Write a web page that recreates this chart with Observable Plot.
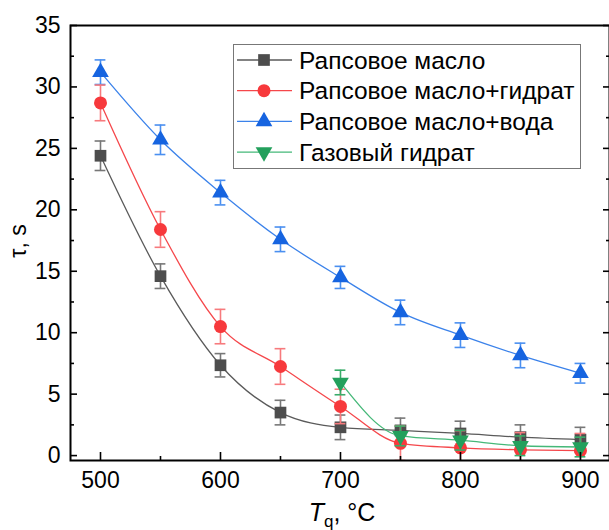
<!DOCTYPE html>
<html><head><meta charset="utf-8">
<script src="https://cdn.jsdelivr.net/npm/d3@7"></script>
<script src="https://cdn.jsdelivr.net/npm/@observablehq/plot@0.6"></script>
<style>
body{margin:0;background:#fff;font-family:"Liberation Sans",Arial,sans-serif}
#chart{width:609px;height:530px}
</style>
</head><body><div id="chart"></div>
<script>
// ---- data ----
const temps = [500, 550, 600, 650, 700, 750, 800, 850, 900];
const oil = [24.4, 14.6, 7.35, 3.5, 2.3, 2.05, 1.8, 1.5, 1.3];
const oilErr = [1.2, 1.0, 0.95, 1.0, 1.0, 1.0, 1.0, 1.0, 1.0];
const oilHydrate = [28.7, 18.4, 10.5, 7.25, 4.0, 1.0, 0.63, 0.47, 0.4];
const oilHydrateErr = [1.45, 1.45, 1.4, 1.45, 1.4, 1.4, 1.4, 1.4, 1.4];
const oilWater = [31.2, 25.7, 21.4, 17.6, 14.5, 11.65, 9.8, 8.15, 6.7];
const oilWaterErr = [1.0, 1.2, 1.0, 1.0, 0.9, 1.0, 1.0, 1.0, 0.8];
const hydrateTemps = [700, 750, 800, 850, 900];
const hydrate = [5.95, 1.6, 1.25, 0.8, 0.7];
const hydrateErr = [1.0, 0.8, 0.8, 0.8, 0.8];
const seriesNames = ["Рапсовое масло", "Рапсовое масло+гидрат", "Рапсовое масло+вода", "Газовый гидрат"];
const xTicks = [500, 600, 700, 800, 900];
const xMinorTicks = [550, 650, 750, 850];
const yTicks = [0, 5, 10, 15, 20, 25, 30, 35];
const yMinorTicks = [2.5, 7.5, 12.5, 17.5, 22.5, 27.5, 32.5];
const xLabel = ["T", "q", ", °C"];
const yLabel = "τ, s";

// ---- styles ----
const styles = [
  {marker: "#4d4d4d", line: "#5a5a5a", err: "#777777", symbol: "square", r: 6.6},
  {marker: "#f7393c", line: "#f5474b", err: "#f77a7d", symbol: "circle", r: 6.5},
  {marker: "#1664e0", line: "#3b82ea", err: "#4a8ff0", symbol: "triangle", r: 6.2},
  {marker: "#23a05c", line: "#45b878", err: "#3aac6a", symbol: "triangleDown", r: 6.2}
];
const triangleDown = {
  draw(context, size) {
    const y = -Math.sqrt(size / (Math.sqrt(3) * 3));
    context.moveTo(0, -y * 2);
    context.lineTo(Math.sqrt(3) * y, y);
    context.lineTo(-Math.sqrt(3) * y, y);
    context.closePath();
  }
};
function sym(s){ return s === "triangleDown" ? triangleDown : s; }

const series = [
  {x: temps, y: oil, e: oilErr},
  {x: temps, y: oilHydrate, e: oilHydrateErr},
  {x: temps, y: oilWater, e: oilWaterErr},
  {x: hydrateTemps, y: hydrate, e: hydrateErr}
];

const marks = [];
const order = [2, 0, 1, 3];
for (const i of order) {
  const st = styles[i], s = series[i];
  const rows = s.x.map((x, k) => ({x, y: s.y[k], lo: s.y[k] - s.e[k], hi: s.y[k] + s.e[k]}));
  marks.push(Plot.line(rows, {x: "x", y: "y", curve: "monotone-x", stroke: st.line, strokeWidth: 1.3, clip: true}));
  marks.push(Plot.ruleX(rows, {x: "x", y1: "lo", y2: "hi", stroke: st.err, strokeWidth: 1.6, clip: true}));
  marks.push(Plot.ruleY(rows, {y: "hi", x1: d => d.x - 4.5, x2: d => d.x + 4.5, stroke: st.err, strokeWidth: 1.6, clip: true}));
  marks.push(Plot.ruleY(rows, {y: "lo", x1: d => d.x - 4.5, x2: d => d.x + 4.5, stroke: st.err, strokeWidth: 1.6, clip: true}));
  marks.push(Plot.dot(rows, {x: "x", y: "y", symbol: () => sym(st.symbol), r: st.r, fill: st.marker, stroke: "none"}));
}

const chart = Plot.plot({
  width: 609,
  height: 530,
  marginLeft: 70,
  marginRight: 0,
  marginTop: 25,
  marginBottom: 70,
  style: {fontFamily: '"Liberation Sans", Arial, sans-serif', fontSize: "23px", background: "white", color: "black"},
  x: {domain: [475, 924.2], ticks: xTicks},
  y: {domain: [-0.4, 35], ticks: yTicks},
  symbol: {type: "identity"},
  marks: [
    ...marks,
    Plot.axisY({ticks: yTicks, tickSize: 0, tickPadding: 10, fontSize: 23, label: null, ariaLabel: "ylabels"}),
    Plot.axisY({ticks: yTicks, tickSize: 7, insetLeft: 7, tickFormat: () => "", label: null, strokeWidth: 1.6}),
    Plot.axisY({ticks: yMinorTicks, tickSize: 4, insetLeft: 4, tickFormat: () => "", label: null, strokeWidth: 1.6}),
    Plot.axisY({anchor: "right", ticks: yTicks, tickSize: 7, insetRight: 7, tickFormat: () => "", label: null, strokeWidth: 1.6}),
    Plot.axisY({anchor: "right", ticks: yMinorTicks, tickSize: 4, insetRight: 4, tickFormat: () => "", label: null, strokeWidth: 1.6}),
    Plot.axisX({ticks: xTicks, tickSize: 0, tickPadding: 11, fontSize: 23, label: null}),
    Plot.axisX({ticks: xTicks, tickSize: 8, insetBottom: 8, tickFormat: () => "", label: null, strokeWidth: 1.6}),
    Plot.axisX({ticks: xMinorTicks, tickSize: 4, insetBottom: 4, tickFormat: () => "", label: null, strokeWidth: 1.6}),
    Plot.frame({stroke: "black", strokeWidth: 2})
  ]
});

const svg = d3.select(chart);
// enforce tick label size
svg.selectAll('g[aria-label$="tick label"]').attr("font-size", 23).selectAll("text").attr("font-size", 23);

const xt = svg.append("text")
  .attr("x", 342).attr("y", 521)
  .attr("text-anchor", "middle")
  .attr("font-size", 25)
  .attr("fill", "black");
xt.append("tspan").attr("font-style", "italic").text(xLabel[0]);
xt.append("tspan").attr("font-size", 17).attr("dy", 6).text(xLabel[1]);
xt.append("tspan").attr("dy", -6).text(xLabel[2]);

svg.append("text")
  .attr("transform", "translate(26,241) rotate(-90)")
  .attr("text-anchor", "middle")
  .attr("font-size", 23)
  .attr("fill", "black")
  .text(yLabel);

// legend
const lg = svg.append("g").attr("text-anchor", "start");
lg.append("rect").attr("x", 233.5).attr("y", 44.5).attr("width", 347).attr("height", 124)
  .attr("fill", "white").attr("stroke", "#777").attr("stroke-width", 1);
seriesNames.forEach((name, i) => {
  const st = styles[i];
  const cy = 60 + i * 30.7;
  lg.append("line").attr("x1", 237).attr("x2", 292).attr("y1", cy).attr("y2", cy)
    .attr("stroke", st.line).attr("stroke-width", 1.3);
  const size = Math.PI * st.r * st.r;
  const p = d3.path();
  (st.symbol === "square" ? d3.symbolSquare : st.symbol === "circle" ? d3.symbolCircle : st.symbol === "triangle" ? d3.symbolTriangle : triangleDown).draw(p, size);
  lg.append("path").attr("d", p.toString()).attr("transform", `translate(264,${cy})`).attr("fill", st.marker);
  lg.append("text").attr("x", 299).attr("y", cy + 8.5).attr("font-size", 24.5).attr("text-anchor", "start").attr("fill", "black").text(name);
});

document.getElementById("chart").appendChild(chart);
</script>
</body></html>
